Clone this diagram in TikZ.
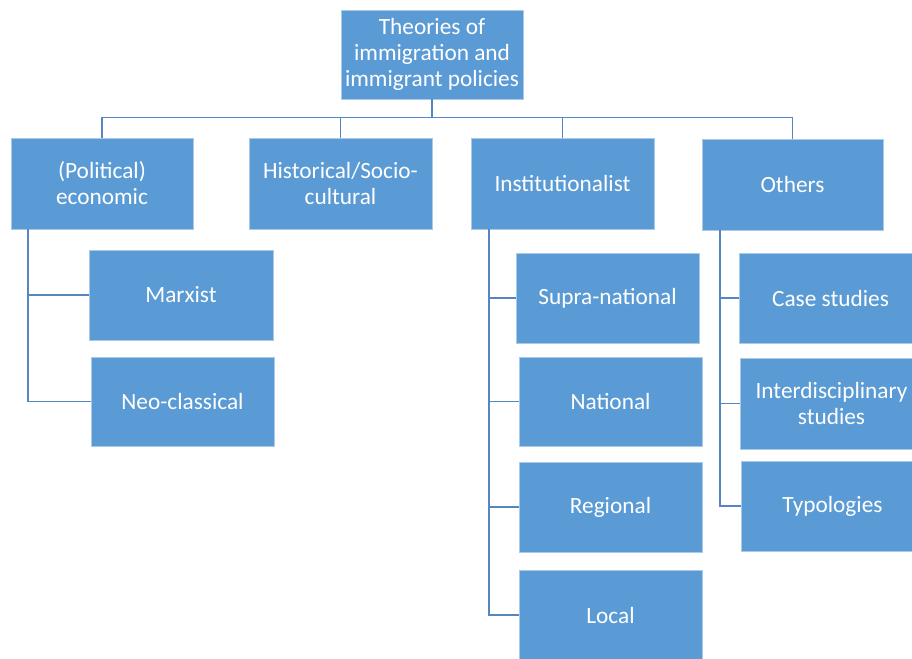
\documentclass[tikz,border=0pt]{standalone}
\usepackage{fontspec}
\setmainfont{Carlito}
\definecolor{boxfill}{HTML}{5B9BD5}
\definecolor{boxedge}{HTML}{A9CBEA}
\definecolor{wire}{HTML}{5585C2}
\tikzset{
  box/.style={draw=boxedge, line width=0.8pt, fill=boxfill, text=white,
    align=center, inner sep=2pt, minimum width=183pt, minimum height=90pt,
    font=\fontsize{23.3}{26}\selectfont},
  wirestyle/.style={draw=wire, line width=1.4pt}
}
\begin{document}
\begin{tikzpicture}[x=1pt,y=-1pt]
\useasboundingbox (0,0) rectangle (912,658);
\clip (0,0) rectangle (912,658);
\fill[white] (0,0) rectangle (912,658);

% root
\node[box, minimum width=182pt, minimum height=89pt] (root) at (432,54.5)
  {Theories of\\immigration and\\immigrant policies};

% first level
\node[box, minimum width=182pt, minimum height=91pt] (pol)  at (102,183.5) {(Political)\\economic};
\node[box, minimum height=91pt] (hist) at (340.5,183.5) {Historical/Socio-\\cultural};
\node[box, minimum height=91pt] (inst) at (562.5,183.5) {Institutionalist};
\node[box, minimum width=181pt, minimum height=91pt] (oth) at (792.5,184.5) {Others};

% economic branch
\node[box, minimum width=184pt] (marx) at (181,295) {Marxist};
\node[box, minimum height=89pt] (neo) at (182.5,401.5) {Neo-classical};

% institutionalist branch
\node[box] (supra) at (607.5,298) {Supra-national};
\node[box, minimum height=89pt] (nat) at (610.5,401.5) {National};
\node[box] (reg) at (610.5,507) {Regional};
\node[box] (loc) at (610.5,615) {Local};

% other approaches
\node[box] (case)  at (830.5,298) {Case studies};
\node[box, minimum height=91pt] (inter) at (831.5,403.5) {Interdisciplinary\\studies};
\node[box] (typ)   at (832.5,506) {Typologies};

% top-level bus
\coordinate (bus) at (432,117.5);
\draw[wirestyle] (root.south) -- (bus);
\draw[wirestyle] (bus) -| (pol.north);
\draw[wirestyle] (bus) -| (hist.north);
\draw[wirestyle] (bus) -| (inst.north);
\draw[wirestyle] (bus) -| (oth.north);

% side rails
\coordinate (pa) at (28,229);
\draw[wirestyle] (pa) |- (marx.west);
\draw[wirestyle] (pa) |- (neo.west);

\coordinate (ia) at (489,229);
\draw[wirestyle] (ia) |- (supra.west);
\draw[wirestyle] (ia) |- (nat.west);
\draw[wirestyle] (ia) |- (reg.west);
\draw[wirestyle] (ia) |- (loc.west);

\coordinate (oa) at (720,230);
\draw[wirestyle] (oa) |- (case.west);
\draw[wirestyle] (oa) |- (inter.west);
\draw[wirestyle] (oa) |- (typ.west);
\end{tikzpicture}
\end{document}
